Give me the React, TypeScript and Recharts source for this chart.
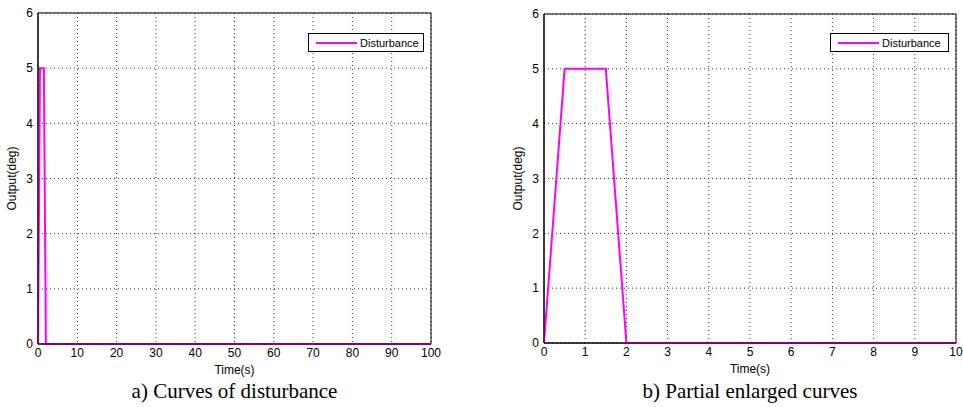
import { LineChart, Line, XAxis, YAxis, CartesianGrid, ReferenceArea, Legend } from 'recharts';

// disturbance: trapezoid pulse, 0 -> 5 deg in 0.5 s, hold to 1.5 s, back to 0 at 2 s
const timeFull = [0, 0.5, 1.5, 2, 100];
const outFull = [0, 5, 5, 0, 0];
const timeZoom = [0, 0.5, 1.5, 2, 10];
const outZoom = [0, 5, 5, 0, 0];

const yTicks = [0, 1, 2, 3, 4, 5, 6];
const xTicksFull = [0, 10, 20, 30, 40, 50, 60, 70, 80, 90, 100];
const xTicksZoom = [0, 1, 2, 3, 4, 5, 6, 7, 8, 9, 10];

const MAGENTA = '#ff00ff';
const tickStyle = { fontSize: 12, fill: '#000', fontFamily: 'Liberation Sans, Arial, sans-serif' };

// the legend still reserves its own height below the plot, so take it off the bottom margin
const LEGEND_H = 19;

function LegendBox() {
  return (
    <div
      style={{
        display: 'flex',
        alignItems: 'center',
        border: '1px solid #000',
        background: '#fff',
        height: 19,
        boxSizing: 'border-box',
        padding: '0 4px 0 7px',
        fontFamily: 'Liberation Sans, Arial, sans-serif',
        fontSize: 11,
        color: '#000',
      }}
    >
      <span style={{ display: 'inline-block', width: 41, height: 2, background: MAGENTA, marginRight: 3 }} />
      Disturbance
    </div>
  );
}

interface PanelProps {
  times: number[];
  values: number[];
  xMax: number;
  xTicks: number[];
  width: number;
  margin: { top: number; right: number; bottom: number; left: number };
  legendPos: { left: number; top: number; width: number };
}

function Panel({ times, values, xMax, xTicks, width, margin, legendPos }: PanelProps) {
  const data = times.map((t, i) => ({ t, v: values[i] }));
  return (
    <LineChart width={width} height={407} data={data} margin={{ ...margin, bottom: margin.bottom - LEGEND_H }}>
      <CartesianGrid stroke="#333" strokeDasharray="1 3" />
      <XAxis
        dataKey="t"
        type="number"
        domain={[0, xMax]}
        ticks={xTicks}
        interval={0}
        height={30}
        tickSize={0}
        tickMargin={4}
        tick={tickStyle}
        axisLine={{ stroke: '#000' }}
        label={{ value: 'Time(s)', position: 'insideBottom', offset: 6, dy: 6, style: tickStyle }}
      />
      <YAxis
        type="number"
        domain={[0, 6]}
        ticks={yTicks}
        interval={0}
        width={30}
        tickSize={0}
        tickMargin={5}
        tick={tickStyle}
        axisLine={{ stroke: '#000' }}
        label={{
          value: 'Output(deg)',
          angle: -90,
          position: 'insideLeft',
          offset: 4,
          style: { ...tickStyle, textAnchor: 'middle' },
        }}
      />
      <ReferenceArea x1={0} x2={xMax} y1={0} y2={6} fill="none" stroke="#000" strokeWidth={1} />
      <Legend
        content={() => <LegendBox />}
        wrapperStyle={{ position: 'absolute', left: legendPos.left, top: legendPos.top, width: legendPos.width }}
      />
      <Line
        dataKey="v"
        stroke={MAGENTA}
        strokeWidth={2}
        dot={false}
        isAnimationActive={false}
        legendType="line"
      />
    </LineChart>
  );
}

const captionStyle: React.CSSProperties = {
  position: 'absolute',
  top: 381,
  fontFamily: 'Liberation Serif, Times New Roman, serif',
  fontSize: 21,
  lineHeight: 1,
  textAlign: 'center',
  color: '#000',
};

export default function App() {
  return (
    <div style={{ position: 'absolute', left: 0, top: 0, width: 963, height: 407, background: '#fff' }}>
      <div style={{ position: 'absolute', left: 0, top: 0 }}>
        <Panel
          times={timeFull}
          values={outFull}
          xMax={100}
          xTicks={xTicksFull}
          width={470}
          margin={{ top: 13, right: 39, bottom: 33, left: 8 }}
          legendPos={{ left: 308, top: 33, width: 116 }}
        />
      </div>
      <div style={{ position: 'absolute', left: 490, top: 0 }}>
        <Panel
          times={timeZoom}
          values={outZoom}
          xMax={10}
          xTicks={xTicksZoom}
          width={473}
          margin={{ top: 14, right: 7, bottom: 34, left: 24 }}
          legendPos={{ left: 340, top: 33, width: 119 }}
        />
      </div>
      <div style={{ ...captionStyle, left: 38, width: 393 }}>a) Curves of disturbance</div>
      <div style={{ ...captionStyle, left: 544, width: 412 }}>b) Partial enlarged curves</div>
    </div>
  );
}
